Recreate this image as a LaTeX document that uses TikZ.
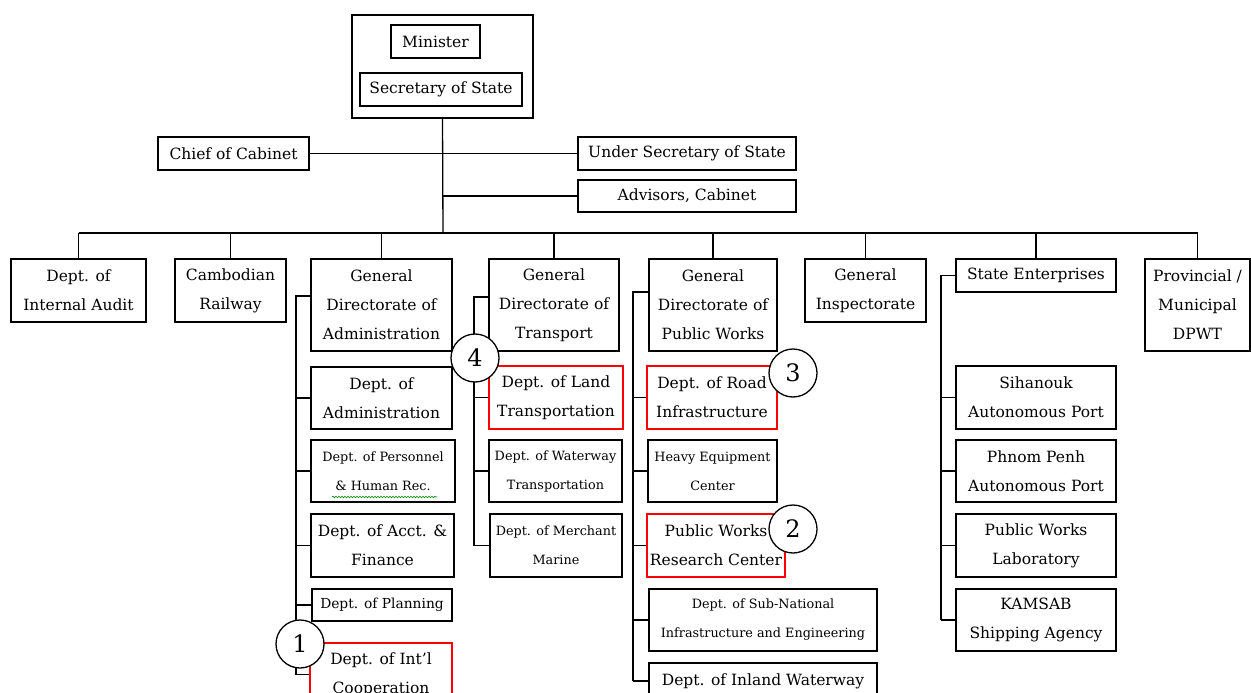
\documentclass[tikz,border=0pt]{standalone}
\usepackage{fontspec}
\setmainfont{DejaVu Serif}
\usetikzlibrary{decorations.pathmorphing}
\begin{document}
\begin{tikzpicture}[x=1pt,y=-1pt,
  box/.style={draw, line width=1.3pt, inner sep=0pt, align=center,
    font=\fontsize{15.5}{29}\selectfont},
  small/.style={font=\fontsize{12.8}{29}\selectfont},
  mid/.style={font=\fontsize{13.8}{29}\selectfont},
  hl/.style={draw=red, line width=2.2pt},
  link/.style={line width=1.3pt},
  badge/.style={circle, draw, fill=white, line width=1.3pt, minimum size=48pt,
    inner sep=0pt, font=\fontsize{24}{24}\selectfont}]
\clip (0,0) rectangle (1251,693);
\fill[white] (0,0) rectangle (1251,693);

% ministry head
\node[box, minimum width=181pt, minimum height=103pt] (top) at (442.5,66.5) {};
\node[box, minimum width=89pt, minimum height=33pt] (minister) at (435.5,41.5) {Minister};
\node[box, minimum width=162pt, minimum height=33pt] (sec) at (441,89.5) {Secretary of State};
\node[box, minimum width=151pt, minimum height=33pt] (chief) at (233.5,153.5) {Chief of Cabinet};
\node[box, minimum width=218pt, minimum height=33pt] (under) at (687,153.5) {Under Secretary of State};
\node[box, minimum width=218pt, minimum height=32pt] (adv) at (687,196) {Advisors, Cabinet};

% second level
\node[box, minimum width=135pt, minimum height=63pt] (audit) at (78.5,290.5) {Dept. of\\Internal Audit};
\node[box, minimum width=111pt, minimum height=63pt] (rail) at (230.5,290.5) {Cambodian\\Railway};
\node[box, minimum width=141pt, minimum height=92pt] (gda) at (381.5,305) {General\\Directorate of\\Administration};
\node[box, minimum width=130pt, minimum height=92pt] (gdt) at (554,305) {General\\Directorate of\\Transport};
\node[box, minimum width=128pt, minimum height=92pt] (gdp) at (713,305) {General\\Directorate of\\Public Works};
\node[box, minimum width=121pt, minimum height=63pt] (insp) at (865.5,290.5) {General\\Inspectorate};
\node[box, minimum width=160pt, minimum height=33pt] (se) at (1036,275.5) {State Enterprises};
\node[box, minimum width=105pt, minimum height=92pt] (prov) at (1197.5,305) {Provincial /\\Municipal\\DPWT};

% administration departments
\node[box, minimum width=141pt, minimum height=62pt] (dadm) at (381.5,398) {Dept. of\\Administration};
\node[box, small, minimum width=144pt, minimum height=62pt] (pers) at (383,471) {Dept. of Personnel\\\& Human Rec.};
\node[box, minimum width=143pt, minimum height=63pt] (acct) at (382.5,545.5) {Dept. of Acct. \&\\Finance};
\node[box, mid, minimum width=140pt, minimum height=32pt] (plan) at (382,605) {Dept. of Planning};
\node[box, hl, minimum width=142pt, minimum height=63pt] (intl) at (381,674.5) {Dept. of Int’l\\Cooperation};

% transport departments
\node[box, hl, minimum width=134pt, minimum height=63pt] (land) at (556,397.5) {Dept. of Land\\Transportation};
\node[box, small, minimum width=133pt, minimum height=62pt] (wway) at (555.5,471) {Dept. of Waterway\\Transportation};
\node[box, small, minimum width=132pt, minimum height=63pt] (merch) at (556,545.5) {Dept. of Merchant\\Marine};

% public works departments
\node[box, hl, minimum width=130pt, minimum height=63pt] (road) at (712,397.5) {Dept. of Road\\Infrastructure};
\node[box, small, minimum width=129pt, minimum height=62pt] (heavy) at (712.5,471) {Heavy Equipment\\Center};
\node[box, hl, minimum width=138pt, minimum height=63pt] (pwrc) at (716,545.5) {Public Works\\Research Center};
\node[box, small, minimum width=228pt, minimum height=62pt] (subn) at (763,620) {Dept. of Sub-National\\Infrastructure and Engineering};
\node[box, minimum width=228pt, minimum height=36pt] (inland) at (763,681) {Dept. of Inland Waterway};

% state enterprises
\node[box, minimum width=160pt, minimum height=63pt] (sihan) at (1036,397.5) {Sihanouk\\Autonomous Port};
\node[box, minimum width=160pt, minimum height=62pt] (pp) at (1036,471) {Phnom Penh\\Autonomous Port};
\node[box, minimum width=160pt, minimum height=63pt] (pwl) at (1036,545.5) {Public Works\\Laboratory};
\node[box, minimum width=160pt, minimum height=62pt] (kam) at (1036,620) {KAMSAB\\Shipping Agency};

% trunk and bus
\coordinate (bus) at (443,233);
\draw[link] (top.south) -- (bus);
\draw[link] (chief.east) -- (under.west);
\draw[link] (adv.west) -- (adv.west -| bus);
\draw[link] (audit.north |- bus) -- (prov.north |- bus);
\foreach \n in {audit,rail,gda,gdt,gdp,insp,se,prov}
  \draw[link] (\n.north) -- (\n.north |- bus);

% side brackets
\coordinate (ga) at (296,296);
\draw[link] (gda.west |- ga) -- (ga) -- (ga |- intl.west);
\foreach \n in {dadm,pers,acct,plan,intl}
  \draw[link] (ga |- \n.west) -- (\n.west);

\coordinate (gt) at (474,297);
\draw[link] (gdt.west |- gt) -- (gt) -- (gt |- merch.west);
\foreach \n in {land,wway,merch}
  \draw[link] (gt |- \n.west) -- (\n.west);

\coordinate (gp) at (633,292);
\draw[link] (gdp.west |- gp) -- (gp) -- (gp |- inland.west);
\foreach \n in {road,heavy,pwrc,subn,inland}
  \draw[link] (gp |- \n.west) -- (\n.west);

\coordinate (gs) at (941,275.5);
\draw[link] (se.west) -- (gs) -- (gs |- kam.west);
\foreach \n in {sihan,pp,pwl,kam}
  \draw[link] (gs |- \n.west) -- (\n.west);

% spelling mark under the personnel text
\draw[green!55!black, line width=0.6pt, decorate,
  decoration={snake, amplitude=0.8pt, segment length=3pt}] (332,497) -- (437,497);

% numbered markers
\node[badge] (b1) at (300,644) {1};
\node[badge] (b2) at (793,529) {2};
\node[badge] (b3) at (793,373) {3};
\node[badge] (b4) at (475,358) {4};
\end{tikzpicture}
\end{document}
